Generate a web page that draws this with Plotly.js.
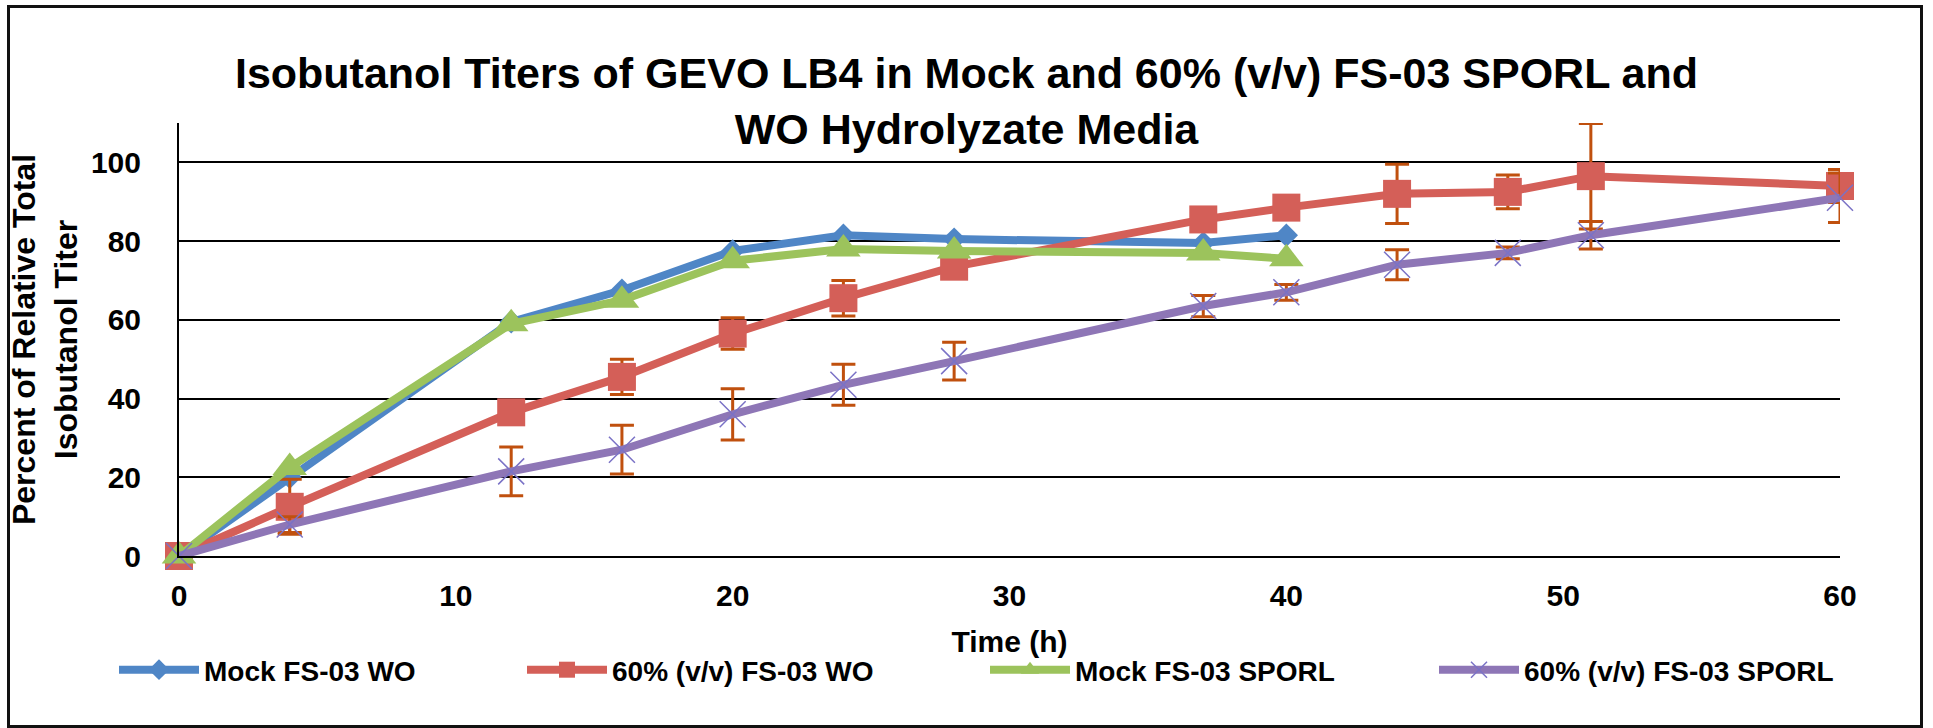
<!DOCTYPE html>
<html>
<head>
<meta charset="utf-8">
<script src="https://cdn.plot.ly/plotly-3.0.1.min.js"></script>
<style>
  html, body { margin: 0; padding: 0; background: #ffffff; }
  #wrap { position: relative; width: 1933px; height: 728px; }
  #chart { position: absolute; left: 0; top: 0; width: 1933px; height: 728px; }
  #frame { position: absolute; left: 7px; top: 5px; width: 1910px; height: 717px;
           border: 3px solid #111; pointer-events: none; }
</style>
</head>
<body>
<div id="wrap">
  <div id="chart"></div>
  <div id="frame"></div>
</div>
<script>
// ---- data ----
const timeMock = [0, 4, 12, 16, 20, 24, 28, 37, 40];
const mockWO = [0, 20, 59.5, 67.5, 77.5, 81.5, 80.5, 79.5, 81.5];
const mockSPORL = [0, 22.5, 59, 65, 75, 78, 77.5, 77, 75.5];

const time60 = [0, 4, 12, 16, 20, 24, 28, 37, 40, 44, 48, 51, 60];
const wo60 = [0, 12.5, 36.5, 45.5, 56.5, 65.5, 73.5, 85.5, 88.5, 92, 92.5, 96.5, 94];
const wo60Err = [0, 7, 3, 4.5, 4, 4.5, 2, 2, 2, 7.5, 4.3, 13.4, 4.2];
const sporl60 = [0, 8, 21.5, 27, 36, 43.5, 49.5, 63.5, 67, 74, 77, 81.5, 91];
const sporl60Err = [0, 2, 6.2, 6.2, 6.5, 5.2, 4.8, 2.7, 2, 3.8, 1.5, 3.5, 6.3];

const seriesNames = ["Mock FS-03 WO", "60% (v/v) FS-03 WO", "Mock FS-03 SPORL", "60% (v/v) FS-03 SPORL"];
const xTicks = [0, 10, 20, 30, 40, 50, 60];
const yTicks = [0, 20, 40, 60, 80, 100];

const FONT = "Liberation Sans, Arial, Helvetica, sans-serif";
const errColor = "#C0500E";

const traces = [
  {
    x: timeMock, y: mockWO, name: seriesNames[0], type: "scatter", mode: "lines+markers",
    line: { color: "#4F86C6", width: 8 },
    marker: { symbol: "diamond", size: 18, color: "#4F86C6" },
    cliponaxis: false, legendwidth: 313
  },
  {
    x: time60, y: wo60, name: seriesNames[1], type: "scatter", mode: "lines+markers",
    line: { color: "#D45F58", width: 8 },
    marker: { symbol: "square", size: 28, color: "#D45F58" },
    error_y: { type: "data", array: wo60Err, visible: true, color: errColor, thickness: 3, width: 12 },
    cliponaxis: false, legendwidth: 368
  },
  {
    x: timeMock, y: mockSPORL, name: seriesNames[2], type: "scatter", mode: "lines+markers",
    line: { color: "#9CC35C", width: 8 },
    marker: { symbol: "triangle-up", size: 30, color: "#9CC35C" },
    cliponaxis: false, legendwidth: 354
  },
  {
    x: time60, y: sporl60, name: seriesNames[3], type: "scatter", mode: "lines+markers",
    line: { color: "#8E76B6", width: 8 },
    marker: { symbol: "x-thin-open", size: 26, color: "#7A72C6", line: { width: 1.5, color: "#7A72C6" } },
    error_y: { type: "data", array: sporl60Err, visible: true, color: errColor, thickness: 3, width: 12 },
    cliponaxis: false, legendwidth: 330
  }
];

const layout = {
  width: 1933, height: 728,
  paper_bgcolor: "#ffffff", plot_bgcolor: "#ffffff",
  margin: { l: 179, r: 93, t: 123, b: 172, pad: 0 },
  font: { family: FONT, color: "#000000", size: 30, weight: "bold" },
  title: {
    text: "Isobutanol Titers of GEVO LB4 in Mock and 60% (v/v) FS-03 SPORL and<br>WO Hydrolyzate Media",
    font: { family: FONT, size: 43, color: "#000000", weight: "bold" },
    x: 0.5, xref: "container", xanchor: "center",
    y: 1 - 88 / 728, yref: "container", yanchor: "top"
  },
  xaxis: {
    range: [0, 60], tickmode: "array", tickvals: xTicks, ticktext: xTicks.map(String),
    showgrid: false, zeroline: false, showline: true, linecolor: "#000000", linewidth: 2,
    ticks: "", ticklabelstandoff: 12,
    tickfont: { family: FONT, size: 30, color: "#000000", weight: "bold" },
    title: { text: "Time (h)", standoff: 20, font: { family: FONT, size: 30, color: "#000000", weight: "bold" } }
  },
  yaxis: {
    range: [0, 110], tickmode: "array", tickvals: yTicks, ticktext: yTicks.map(String),
    showgrid: true, gridcolor: "#000000", gridwidth: 2,
    zeroline: false, showline: true, linecolor: "#000000", linewidth: 2,
    ticks: "", ticklabelstandoff: 30,
    tickfont: { family: FONT, size: 30, color: "#000000", weight: "bold" },
    title: { text: "Percent of Relative Total<br>Isobutanol Titer", standoff: 4,
             font: { family: FONT, size: 32, color: "#000000", weight: "bold" } }
  },
  showlegend: true,
  legend: {
    orientation: "h", xref: "paper", yref: "paper",
    x: (114 - 179) / 1661, xanchor: "left", y: (556 - 670) / 433, yanchor: "middle",
    itemwidth: 80,
    font: { family: FONT, size: 28, color: "#000000", weight: "bold" },
    bgcolor: "rgba(0,0,0,0)", borderwidth: 0, traceorder: "normal"
  }
};

Plotly.newPlot("chart", traces, layout, { displayModeBar: false, staticPlot: true });
</script>
</body>
</html>
